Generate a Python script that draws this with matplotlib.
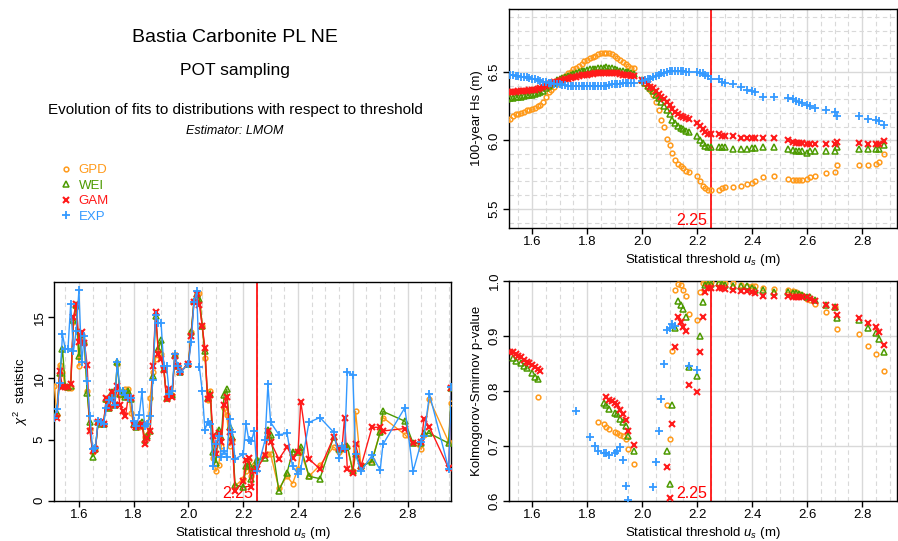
import matplotlib
matplotlib.use("Agg")
import matplotlib.pyplot as plt
from matplotlib.lines import Line2D
from matplotlib.ticker import MultipleLocator

plt.rcParams['font.family'] = ['Liberation Sans', 'DejaVu Sans']
plt.rcParams['mathtext.fontset'] = 'custom'
plt.rcParams['mathtext.rm'] = 'Liberation Sans'
plt.rcParams['mathtext.it'] = 'Liberation Sans:italic'

# thresholds (m) used in the 100-year Hs panel
thr = [1.51, 1.52, 1.53, 1.54, 1.55, 1.56, 1.57, 1.58, 1.59, 1.60,
       1.61, 1.62, 1.63, 1.64, 1.65, 1.66, 1.67, 1.68, 1.69, 1.70,
       1.71, 1.72, 1.73, 1.74, 1.75, 1.76, 1.77, 1.78, 1.79, 1.80,
       1.81, 1.82, 1.83, 1.84, 1.85, 1.86, 1.87, 1.88, 1.89, 1.90,
       1.91, 1.92, 1.93, 1.94, 1.95, 1.96, 1.97,
       2.00, 2.01, 2.02, 2.03, 2.04, 2.05, 2.06, 2.07, 2.08, 2.09, 2.10,
       2.11, 2.12, 2.13, 2.14, 2.15, 2.16, 2.17,
       2.20, 2.21, 2.22, 2.23, 2.24, 2.25,
       2.28, 2.29, 2.30, 2.33, 2.36, 2.38, 2.40, 2.41, 2.44, 2.48,
       2.53, 2.55, 2.56, 2.57, 2.58, 2.60, 2.61, 2.63, 2.67, 2.70,
       2.71, 2.79, 2.82, 2.85, 2.86, 2.88]

hs_gpd = [6.15, 6.16, 6.18, 6.19, 6.195, 6.20, 6.21, 6.22, 6.225, 6.23,
          6.24, 6.25, 6.26, 6.28, 6.32, 6.35, 6.37, 6.39, 6.41, 6.43,
          6.45, 6.47, 6.49, 6.50, 6.52, 6.53, 6.54, 6.56, 6.58, 6.59,
          6.60, 6.61, 6.62, 6.63, 6.635, 6.64, 6.64, 6.64, 6.63, 6.62,
          6.60, 6.59, 6.57, 6.56, 6.54, 6.53, 6.53,
          6.44, 6.42, 6.40, 6.37, 6.33, 6.28, 6.22, 6.15, 6.10, 6.01, 5.97,
          5.91, 5.86, 5.83, 5.81, 5.80, 5.78, 5.77,
          5.74, 5.70, 5.67, 5.65, 5.64, 5.64,
          5.64, 5.65, 5.66, 5.66, 5.67, 5.68, 5.69, 5.70, 5.73, 5.74,
          5.72, 5.71, 5.71, 5.71, 5.71, 5.72, 5.73, 5.74, 5.76, 5.77,
          5.82, 5.82, 5.82, 5.83, 5.84, 5.90]
hs_wei = [6.30, 6.31, 6.31, 6.315, 6.32, 6.32, 6.325, 6.33, 6.33, 6.335,
          6.34, 6.345, 6.35, 6.36, 6.38, 6.40, 6.41, 6.42, 6.44, 6.45,
          6.455, 6.46, 6.47, 6.48, 6.485, 6.49, 6.50, 6.505, 6.51, 6.515,
          6.52, 6.52, 6.525, 6.53, 6.53, 6.53, 6.535, 6.53, 6.53, 6.52,
          6.515, 6.51, 6.505, 6.50, 6.50, 6.49, 6.485,
          6.44, 6.42, 6.40, 6.38, 6.36, 6.33, 6.31, 6.28, 6.25, 6.22, 6.19,
          6.15, 6.125, 6.105, 6.09, 6.08, 6.07, 6.06,
          6.03, 6.00, 5.98, 5.96, 5.95, 5.95,
          5.95, 5.95, 5.95, 5.94, 5.94, 5.94, 5.945, 5.945, 5.95, 5.95,
          5.94, 5.93, 5.92, 5.92, 5.92, 5.91, 5.92, 5.92, 5.92, 5.92,
          5.95, 5.94, 5.94, 5.94, 5.94, 5.97]
hs_gam = [6.35, 6.355, 6.355, 6.355, 6.36, 6.36, 6.36, 6.36, 6.365, 6.37,
          6.37, 6.375, 6.38, 6.39, 6.40, 6.41, 6.42, 6.425, 6.43, 6.435,
          6.44, 6.445, 6.45, 6.455, 6.46, 6.465, 6.47, 6.475, 6.48, 6.48,
          6.485, 6.485, 6.49, 6.49, 6.49, 6.49, 6.49, 6.49, 6.49, 6.49,
          6.49, 6.485, 6.48, 6.48, 6.475, 6.47, 6.47,
          6.44, 6.43, 6.41, 6.39, 6.38, 6.36, 6.34, 6.32, 6.30, 6.28, 6.26,
          6.23, 6.21, 6.19, 6.18, 6.17, 6.165, 6.16,
          6.13, 6.105, 6.08, 6.065, 6.05, 6.045,
          6.045, 6.035, 6.03, 6.03, 6.02, 6.02, 6.02, 6.02, 6.02, 6.02,
          6.00, 5.99, 5.98, 5.98, 5.98, 5.975, 5.975, 5.975, 5.975, 5.975,
          5.99, 5.98, 5.975, 5.975, 5.975, 5.995]
hs_exp = [6.48, 6.478, 6.475, 6.47, 6.47, 6.465, 6.46, 6.46, 6.455, 6.45,
          6.445, 6.44, 6.435, 6.43, 6.425, 6.42, 6.42, 6.415, 6.41, 6.41,
          6.405, 6.405, 6.40, 6.40, 6.40, 6.40, 6.40, 6.40, 6.40, 6.40,
          6.40, 6.40, 6.40, 6.40, 6.40, 6.40, 6.40, 6.405, 6.41, 6.41,
          6.415, 6.415, 6.42, 6.42, 6.42, 6.42, 6.42,
          6.435, 6.44, 6.445, 6.45, 6.46, 6.47, 6.48, 6.49, 6.495, 6.50, 6.505,
          6.51, 6.51, 6.51, 6.51, 6.505, 6.50, 6.50,
          6.50, 6.495, 6.49, 6.48, 6.47, 6.45,
          6.45, 6.43, 6.42, 6.41, 6.39, 6.37, 6.36, 6.35, 6.32, 6.32,
          6.31, 6.30, 6.29, 6.28, 6.27, 6.26, 6.25, 6.24, 6.22, 6.21,
          6.18, 6.18, 6.16, 6.15, 6.14, 6.11]

# chi-square panel: same thresholds plus two at the right edge
thr_chi = thr + [2.95, 2.96]
chi_gpd = [9.4, 7.0, 11.1, 10.5, 9.3, 9.2, 9.2, 14.6, 15.8, 11.0,
           13.2, 12.9, 9.0, 5.9, 4.0, 4.2, 6.4, 6.4, 6.3, 8.2,
           7.6, 8.7, 7.9, 11.2, 8.6, 8.8, 9.1, 9.1, 7.2, 6.3,
           6.1, 6.0, 6.4, 5.2, 5.4, 8.4, 10.5, 11.6, 12.2, 12.0,
           10.8, 8.4, 9.0, 8.6, 11.9, 11.0, 10.5,
           11.2, 13.8, 16.3, 17.0, 17.0, 14.3, 11.7, 8.2, 9.0, 3.5, 2.4,
           2.9, 4.5, 7.6, 7.0, 4.5, 5.0, 1.2,
           1.8, 2.4, 3.3, 2.0, 2.9, 3.3,
           3.7, 3.8, 3.8, 1.0, 2.0, 1.4, 2.6, 4.0, 2.0, 2.9,
           4.4, 4.0, 4.2, 4.5, 4.4, 2.4, 7.3, 2.8, 3.3, 5.6,
           6.8, 5.4, 4.7, 4.2, 5.4, 8.3,
           4.8, 8.0]
chi_wei = [6.9, 7.2, 10.4, 12.4, 9.4, 9.3, 9.4, 14.8, 16.0, 11.8,
           13.6, 13.0, 8.8, 6.4, 3.6, 4.2, 6.4, 6.3, 6.3, 8.3,
           7.6, 8.9, 7.8, 11.3, 8.7, 9.0, 8.5, 9.0, 8.3, 6.3,
           6.0, 6.2, 6.4, 5.0, 5.3, 5.7, 10.2, 15.1, 12.4, 13.1,
           10.8, 8.4, 9.0, 8.6, 11.9, 11.0, 10.5,
           11.2, 13.8, 16.3, 16.9, 16.5, 14.3, 12.2, 8.4, 8.7, 4.0, 3.1,
           5.8, 5.2, 8.6, 9.1, 6.0, 5.2, 1.3,
           1.1, 2.8, 3.0, 1.8, 2.7, 3.3,
           3.5, 5.8, 5.4, 0.8, 2.3, 4.0, 4.0, 4.4, 2.0, 1.8,
           5.2, 4.2, 4.3, 4.4, 4.5, 2.4, 3.8, 2.8, 3.2, 5.6,
           7.3, 6.5, 4.7, 4.7, 5.5, 5.5,
           4.7, 9.2]
chi_gam = [6.9, 6.8, 10.6, 9.3, 9.3, 9.3, 9.5, 15.0, 16.1, 13.0,
           13.8, 12.9, 11.1, 5.7, 4.1, 4.2, 6.4, 6.4, 6.3, 8.4,
           7.6, 8.9, 7.8, 9.4, 7.8, 7.3, 6.9, 8.5, 8.4, 6.2,
           6.0, 6.1, 6.3, 4.6, 5.1, 5.7, 11.0, 15.4, 12.0, 11.6,
           10.7, 8.3, 9.1, 8.5, 11.8, 11.0, 10.5,
           11.2, 13.5, 16.2, 16.9, 16.0, 14.3, 12.5, 8.3, 8.6, 5.3, 3.8,
           5.5, 4.8, 7.8, 8.5, 5.6, 4.8, 0.8,
           1.6, 3.3, 3.5, 1.1, 2.4, 2.6,
           3.7, 5.7, 4.8, 3.4, 4.4, 3.5, 4.0, 8.1, 3.4, 2.6,
           5.2, 4.3, 4.2, 6.8, 2.6, 2.3, 4.6, 2.8, 6.0, 6.0,
           5.7, 5.9, 4.7, 4.8, 6.7, 6.0,
           2.65, 9.2]
chi_exp = [6.8, 7.5, 9.6, 13.6, 12.4, 12.4, 16.1, 12.2, 13.9, 17.2,
           11.3, 13.5, 9.8, 6.9, 4.2, 4.3, 6.5, 6.4, 6.3, 7.6,
           8.2, 8.4, 7.8, 11.3, 9.0, 9.0, 8.6, 8.4, 8.4, 6.5,
           6.1, 7.0, 8.9, 6.1, 6.3, 6.9, 9.9, 15.2, 14.5, 14.5,
           11.0, 11.0, 8.7, 9.0, 12.0, 11.0, 10.5,
           11.2, 13.0, 16.2, 17.1, 10.9, 9.0, 5.8, 6.4, 6.3, 2.8, 4.6,
           5.3, 3.6, 4.1, 3.6, 6.7, 5.6, 3.4,
           3.8, 6.3, 5.0, 4.9, 5.7, 2.4,
           5.0, 9.5, 6.4, 5.4, 5.5, 2.8, 2.2, 2.6, 6.4, 6.8,
           5.6, 3.5, 4.5, 4.2, 10.5, 10.3, 3.8, 2.4, 3.7, 2.5,
           4.6, 7.6, 2.4, 4.8, 5.3, 8.7,
           2.6, 9.3]

# Kolmogorov-Smirnov p-values (only the ones inside 0.6-1.0)
ks_gpd_u = [1.62, 1.84, 1.86, 1.87, 1.88, 1.90, 1.91, 1.92, 1.93, 1.94, 1.95, 1.97,
            2.09, 2.10, 2.11, 2.12, 2.13, 2.14, 2.15, 2.16, 2.17, 2.20, 2.21, 2.22, 2.23, 2.24, 2.25,
            2.28, 2.29, 2.30, 2.33, 2.36, 2.38, 2.40, 2.41, 2.44, 2.48,
            2.53, 2.55, 2.56, 2.57, 2.58, 2.60, 2.61, 2.63, 2.67, 2.70,
            2.71, 2.79, 2.82, 2.85, 2.88]
ks_gpd_p = [0.788, 0.744, 0.739, 0.735, 0.730, 0.725, 0.723, 0.720, 0.717, 0.712, 0.695, 0.666,
            0.774, 0.713, 0.873, 0.983, 0.995, 0.992, 0.984, 0.973, 0.940, 0.929, 0.980, 0.996, 0.998, 0.999, 0.999,
            0.997, 0.997, 0.996, 0.996, 0.993, 0.991, 0.990, 0.991, 0.988, 0.986,
            0.984, 0.982, 0.980, 0.977, 0.975, 0.968, 0.966, 0.958, 0.944, 0.953,
            0.913, 0.903, 0.881, 0.868, 0.837]
ks_wei_u = [1.53, 1.54, 1.56, 1.57, 1.58, 1.60, 1.61, 1.62,
            1.86, 1.87, 1.88, 1.90, 1.91, 1.92, 1.93, 1.94, 1.95, 1.97,
            2.09, 2.10, 2.11, 2.12, 2.13, 2.14, 2.15, 2.16, 2.17, 2.20, 2.21, 2.22, 2.23, 2.24, 2.25,
            2.28, 2.29, 2.30, 2.33, 2.36, 2.38, 2.40, 2.41, 2.44, 2.48,
            2.53, 2.55, 2.56, 2.57, 2.58, 2.60, 2.61, 2.63, 2.67, 2.70,
            2.71, 2.79, 2.82, 2.85, 2.86, 2.88]
ks_wei_p = [0.860, 0.855, 0.850, 0.846, 0.842, 0.833, 0.826, 0.822,
            0.778, 0.774, 0.767, 0.760, 0.757, 0.749, 0.744, 0.736, 0.717, 0.690,
            0.690, 0.630, 0.774, 0.915, 0.963, 0.956, 0.949, 0.935, 0.844, 0.827, 0.900, 0.961, 0.993, 0.995, 0.995,
            0.996, 0.995, 0.993, 0.990, 0.990, 0.990, 0.988, 0.984, 0.984, 0.980,
            0.980, 0.979, 0.978, 0.976, 0.975, 0.971, 0.970, 0.965, 0.957, 0.953,
            0.933, 0.929, 0.915, 0.906, 0.894, 0.871]
ks_gam_u = [1.52, 1.53, 1.54, 1.55, 1.56, 1.57, 1.58, 1.59, 1.60, 1.61, 1.62, 1.63,
            1.87, 1.88, 1.89, 1.90, 1.91, 1.92, 1.93, 1.94, 1.95, 1.97,
            2.09, 2.10, 2.11, 2.12, 2.13, 2.14, 2.15, 2.16, 2.17, 2.20, 2.21, 2.22, 2.23, 2.24, 2.25,
            2.28, 2.29, 2.30, 2.33, 2.36, 2.38, 2.40, 2.41, 2.44, 2.48,
            2.53, 2.55, 2.56, 2.57, 2.58, 2.60, 2.61, 2.63, 2.67, 2.70,
            2.71, 2.79, 2.82, 2.85, 2.86, 2.88]
ks_gam_p = [0.871, 0.870, 0.867, 0.864, 0.861, 0.857, 0.853, 0.850, 0.847, 0.843, 0.840, 0.837,
            0.789, 0.784, 0.781, 0.778, 0.774, 0.765, 0.758, 0.747, 0.727, 0.701,
            0.661, 0.605, 0.740, 0.880, 0.934, 0.925, 0.917, 0.909, 0.811, 0.797, 0.870, 0.935, 0.980, 0.988, 0.988,
            0.987, 0.987, 0.986, 0.984, 0.982, 0.981, 0.980, 0.978, 0.973, 0.973,
            0.973, 0.971, 0.971, 0.971, 0.971, 0.970, 0.967, 0.964, 0.957, 0.953,
            0.938, 0.933, 0.924, 0.917, 0.908, 0.883]
ks_exp_u = [1.76, 1.81, 1.83, 1.84, 1.86, 1.87, 1.88, 1.90, 1.91, 1.92, 1.93, 1.94, 1.95,
            2.04, 2.05, 2.06, 2.07, 2.08, 2.09, 2.10, 2.11, 2.12, 2.17, 2.20]
ks_exp_p = [0.764, 0.716, 0.700, 0.690, 0.687, 0.686, 0.684, 0.687, 0.691, 0.697, 0.674, 0.626, 0.601,
            0.625, 0.671, 0.727, 0.786, 0.848, 0.910, 0.914, 0.921, 0.918, 0.845, 0.838]

u_sel = 2.25
names = ['GPD', 'WEI', 'GAM', 'EXP']
colors = {'GPD': '#FF9A1A', 'WEI': '#4C9A00', 'GAM': '#FF1A1A', 'EXP': '#3399FF'}
mk = {'GPD': dict(marker='o', ms=3.4, mew=1.1, mfc='none'),
      'WEI': dict(marker='^', ms=4.8, mew=1.1, mfc='none'),
      'GAM': dict(marker='x', ms=4.0, mew=1.5),
      'EXP': dict(marker='+', ms=6.3, mew=1.3)}

grid_c = '#D9D9D9'


def setup(ax, xlim, ylim, ymaj, ymin=None, hgrid=True):
    ax.set_xlim(xlim)
    ax.set_ylim(ylim)
    ax.xaxis.set_major_locator(MultipleLocator(0.2))
    ax.xaxis.set_minor_locator(MultipleLocator(0.05))
    ax.yaxis.set_major_locator(MultipleLocator(ymaj))
    ax.grid(which='major', axis='x', color=grid_c, lw=1.0, ls='-')
    ax.grid(which='minor', axis='x', color=grid_c, lw=0.8, ls=(0, (4, 3)))
    if hgrid:
        ax.grid(which='major', axis='y', color=grid_c, lw=1.0, ls='-')
    if ymin:
        ax.yaxis.set_minor_locator(MultipleLocator(ymin))
        ax.grid(which='minor', axis='y', color=grid_c, lw=0.8, ls=(0, (4, 3)))
    ax.set_axisbelow(True)
    ax.tick_params(which='major', direction='out', length=4, width=1, labelsize=9.5, pad=2)
    ax.tick_params(which='minor', length=0)
    for lab in ax.get_yticklabels():
        lab.set_rotation(90)
        lab.set_va('center')
    for s in ax.spines.values():
        s.set_linewidth(1.0)
        s.set_color('black')
    ax.set_xlabel('Statistical threshold $u_s$ (m)', fontsize=9.5, labelpad=3)
    ax.axvline(u_sel, color='red', lw=1.2, zorder=1.5)
    ax.annotate('2.25', xy=(u_sel, 0), xycoords=('data', 'axes fraction'),
                xytext=(-3, 0), textcoords='offset points',
                ha='right', va='bottom', color='red', fontsize=11.5)


fig = plt.figure(figsize=(8.98, 5.41), dpi=100)

# 100-year Hs
ax1 = fig.add_axes([509 / 898, 1 - 228 / 541, 388 / 898, 219 / 541])
setup(ax1, (1.516, 2.927), (5.36, 6.96), 0.5, 0.1)
ax1.yaxis.set_major_formatter(matplotlib.ticker.FormatStrFormatter('%.1f'))
for n, y in zip(names, [hs_gpd, hs_wei, hs_gam, hs_exp]):
    ax1.plot(thr, y, ls='none', color=colors[n], zorder=3, **mk[n])
ax1.set_ylabel('100-year Hs (m)', fontsize=9.5, labelpad=4)

# chi-square statistic
ax2 = fig.add_axes([54 / 898, 1 - 500.7 / 541, 397.4 / 898, 219 / 541])
setup(ax2, (1.509, 2.96), (0, 17.9), 5, hgrid=False)
for n, y in zip(names, [chi_gpd, chi_wei, chi_gam, chi_exp]):
    ax2.plot(thr_chi, y, ls='-', lw=1.0, color=colors[n], zorder=3, **mk[n])
ax2.set_ylabel(r'$\chi^2$  statistic', fontsize=9.5, labelpad=3)

# Kolmogorov-Smirnov p-value
ax3 = fig.add_axes([509 / 898, 1 - 500.7 / 541, 388 / 898, 219.7 / 541])
setup(ax3, (1.516, 2.927), (0.6, 1.0), 0.1)
for n, (u, p) in zip(names, [(ks_gpd_u, ks_gpd_p), (ks_wei_u, ks_wei_p),
                             (ks_gam_u, ks_gam_p), (ks_exp_u, ks_exp_p)]):
    ax3.plot(u, p, ls='none', color=colors[n], zorder=3, **mk[n])
ax3.set_ylabel('Kolmogorov-Smirnov p-value', fontsize=9.5, labelpad=4)

# titles
xc = 235 / 898
fig.text(xc, 1 - 38 / 541, 'Bastia Carbonite PL NE', ha='center', va='center', fontsize=14)
fig.text(xc, 1 - 70 / 541, 'POT sampling', ha='center', va='center', fontsize=12.5)
fig.text(xc, 1 - 110 / 541, 'Evolution of fits to distributions with respect to threshold',
         ha='center', va='center', fontsize=11)
fig.text(xc, 1 - 131 / 541, 'Estimator: LMOM', ha='center', va='center', fontsize=9, style='italic')

handles = [Line2D([], [], ls='none', color=colors[n], **mk[n]) for n in names]
fig.legend(handles, names, loc='upper left', bbox_to_anchor=(59 / 898, 1 - 164 / 541),
           frameon=False, fontsize=9.5, labelcolor=[colors[n] for n in names],
           handlelength=1.0, handletextpad=0.5, labelspacing=0.25, borderpad=0,
           borderaxespad=0)

fig.savefig('out.png', dpi=100)
